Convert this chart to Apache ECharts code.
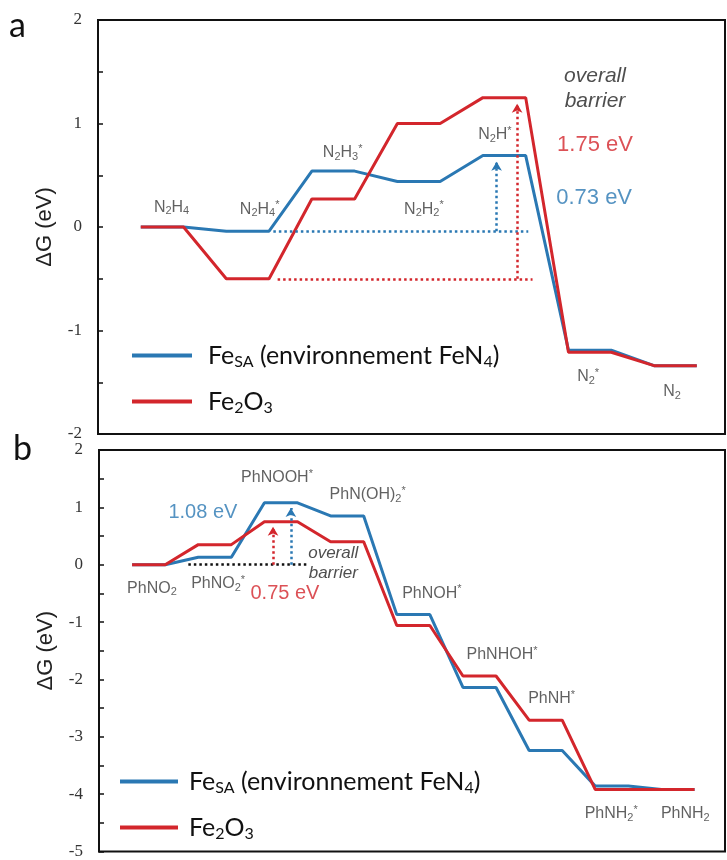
<!DOCTYPE html>
<html><head><meta charset="utf-8">
<script src="https://cdn.jsdelivr.net/npm/echarts@6/dist/echarts.min.js"></script>
<style>html,body{margin:0;padding:0;background:#fff}#c{width:727px;height:860px}</style>
</head><body><div id="c"></div>
<script>
// ---------- DATA ----------
// Panel a : N2H4 -> N2
const statesA = ['N2H4', 'N2H4*', 'N2H3*', 'N2H2*', 'N2H*', 'N2*', 'N2'];
const feSA_A  = [0, -0.04, 0.54, 0.44, 0.69, -1.19, -1.34];
const fe2o3_A = [0, -0.50, 0.27, 1.00, 1.25, -1.21, -1.34];
// Panel b : PhNO2 -> PhNH2
const statesB = ['PhNO2', 'PhNO2*', 'PhNOOH*', 'PhN(OH)2*', 'PhNOH*', 'PhNHOH*', 'PhNH*', 'PhNH2*', 'PhNH2'];
const feSA_B  = [0, 0.13, 1.08, 0.85, -0.87, -2.14, -3.24, -3.86, -3.92];
const fe2o3_B = [0, 0.35, 0.75, 0.40, -1.06, -1.94, -2.71, -3.92, -3.92];
// overall barriers (eV)
const barrierA = { FeSA: '0.73 eV', Fe2O3: '1.75 eV' };
const barrierB = { FeSA: '1.08 eV', Fe2O3: '0.75 eV' };
const seriesNames = ['FeSA', 'Fe2O3'];

// ---------- LAYOUT / STYLE ----------
const BLUE = '#2a78b3', RED = '#d3262c';
const PLATEAU = 0.5;
// label anchors [step units, eV]
const labelPosA = [[0.36,0.19],[1.39,0.17],[2.36,0.72],[3.31,0.17],[4.14,0.89],[5.23,-1.45],[6.21,-1.59]];
const labelPosB = [[0.30,-0.41],[1.30,-0.33],[2.19,1.52],[3.56,1.22],[4.53,-0.50],[5.59,-1.57],[6.34,-2.34],[7.24,-4.34],[8.36,-4.34]];

function stepped(levels) {
  const pts = [];
  levels.forEach((v, i) => { pts.push([i, v]); pts.push([i + PLATEAU, v]); });
  return pts;
}
function chem(s) { return s.replace(/(\d+)/g, '{s|$1}').replace(/\*/g, '{p|*}'); }
const chemRich = {
  s: { fontSize: 11, fontFamily: 'Liberation Sans', color: '#3a3a3a', padding: [8, 0, 0, 0] },
  p: { fontSize: 11, fontFamily: 'Liberation Sans', color: '#3a3a3a', padding: [0, 0, 8, 0] }
};
function legendRich(pad) {
  return {
    sp: { width: pad },
    n: { fontSize: 25, fontFamily: 'Lato', color: '#111', lineHeight: 30 },
    sub: { fontSize: 16, fontFamily: 'Lato', color: '#111', padding: [13, 0, 0, 0] }
  };
}
function legendFmt(name) {
  if (name === 'FeSA') return '{sp|}{n|Fe}{sub|SA}{n| (environnement FeN}{sub|4}{n|)}';
  return '{sp|}{n|Fe}{sub|2}{n|O}{sub|3}';
}
function dotted(color, from, to, arrow) {
  return [
    { coord: from, symbol: 'none', lineStyle: { color: color, width: 2.5, type: [2.5, 3] } },
    { coord: to, symbol: arrow ? 'arrow' : 'none', symbolSize: [8, 9] }
  ];
}
function labelSeries(gi, names, pos) {
  return {
    type: 'scatter', xAxisIndex: gi, yAxisIndex: gi, symbolSize: 1, silent: true, z: 5,
    itemStyle: { color: 'rgba(0,0,0,0)' },
    data: names.map((n, i) => ({ name: n, value: pos[i] })),
    label: { show: true, position: 'inside', formatter: p => chem(p.name),
      fontFamily: 'Liberation Sans', fontSize: 16, color: '#3a3a3a', rich: chemRich }
  };
}
function noteSeries(gi, notes, markLine) {
  const s = {
    type: 'scatter', xAxisIndex: gi, yAxisIndex: gi, symbolSize: 1, silent: true, z: 6,
    itemStyle: { color: 'rgba(0,0,0,0)' },
    data: notes.map(n => ({ value: n.pos, label: {
      show: true, position: 'inside', formatter: n.text, color: n.color,
      fontFamily: 'Liberation Sans', fontSize: n.size, fontStyle: n.italic ? 'italic' : 'normal',
      lineHeight: n.lh || n.size } }))
  };
  if (markLine) s.markLine = markLine;
  return s;
}
function lineSeries(gi, name, color, levels, markLine) {
  return {
    type: 'line', name: name, xAxisIndex: gi, yAxisIndex: gi, data: stepped(levels),
    symbol: 'none', color: color, lineStyle: { color: color, width: 3 }, z: 3, silent: true,
    markLine: markLine
  };
}
function yAxis(gi, min, max) {
  return {
    type: 'value', gridIndex: gi, min: min, max: max, interval: 0.5,
    axisLine: { show: true, onZero: false, lineStyle: { color: '#111', width: 2 } },
    axisTick: { show: true, inside: true, length: 5, lineStyle: { color: '#111', width: 1.5 } },
    splitLine: { show: false },
    axisLabel: { margin: 16, fontFamily: 'Liberation Serif', fontSize: 17, color: '#333',
      formatter: v => (Number.isInteger(v) ? String(v) : '') },
    name: 'ΔG (eV)', nameLocation: 'middle', nameGap: 42,
    nameTextStyle: { fontFamily: 'Liberation Sans', fontSize: 22, color: '#222' }
  };
}

const gapA = 0.06, gapB = 0.09;
const mlBlueA = { silent: true, symbol: ['none', 'none'], label: { show: false }, data: [
  dotted(BLUE, [1.55, feSA_A[1]], [4.53, feSA_A[1]], false),
  dotted(BLUE, [4.16, feSA_A[1]], [4.16, feSA_A[4] - gapA], true)] };
const mlRedA = { silent: true, symbol: ['none', 'none'], label: { show: false }, data: [
  dotted(RED, [1.60, fe2o3_A[1]], [4.58, fe2o3_A[1]], false),
  dotted(RED, [4.40, fe2o3_A[1]], [4.40, fe2o3_A[4] - gapA], true)] };
const mlB = { silent: true, symbol: ['none', 'none'], label: { show: false }, data: [
  dotted('#111', [0.85, fe2o3_B[0]], [2.64, fe2o3_B[0]], false),
  dotted(RED, [2.13, fe2o3_B[0]], [2.13, fe2o3_B[2] - gapB], true),
  dotted(BLUE, [2.40, feSA_B[0]], [2.40, feSA_B[2] - gapB], true)] };

const notesA = [
  { text: 'overall\nbarrier', pos: [5.31, 1.34], color: '#222', italic: true, size: 21, lh: 25 },
  { text: barrierA.Fe2O3, pos: [5.31, 0.79], color: RED, size: 22 },
  { text: barrierA.FeSA, pos: [5.30, 0.28], color: BLUE, size: 22 }
];
const notesB = [
  { text: barrierB.FeSA, pos: [1.07, 0.91], color: BLUE, size: 20 },
  { text: barrierB.Fe2O3, pos: [2.31, -0.50], color: RED, size: 20 },
  { text: 'overall\nbarrier', pos: [3.04, 0.03], color: '#222', italic: true, size: 17, lh: 20 }
];

const chart = echarts.init(document.getElementById('c'), null, { renderer: 'canvas' });
chart.setOption({
  animation: false,
  backgroundColor: '#fff',
  title: [
    { text: 'a', left: 9, top: 9, padding: 0, textStyle: { fontFamily: 'Lato', fontSize: 34, fontWeight: 'normal', color: '#111' } },
    { text: 'b', left: 13, top: 432, padding: 0, textStyle: { fontFamily: 'Lato', fontSize: 34, fontWeight: 'normal', color: '#111' } }
  ],
  grid: [
    { left: 98, top: 20, width: 627, height: 414, show: true, borderColor: '#111', borderWidth: 2, backgroundColor: 'transparent' },
    { left: 99, top: 450, width: 626, height: 406, show: true, borderColor: '#111', borderWidth: 2, backgroundColor: 'transparent' }
  ],
  xAxis: [
    { type: 'value', gridIndex: 0, min: -0.5, max: 6.83, show: false },
    { type: 'value', gridIndex: 1, min: -0.5, max: 8.96, show: false }
  ],
  yAxis: [yAxis(0, -2, 2), yAxis(1, -5, 2)],
  legend: [
    { data: seriesNames, orient: 'vertical', left: 132, top: 343, padding: 0, itemGap: 19,
      icon: 'rect', itemWidth: 60, itemHeight: 4, selectedMode: false, formatter: legendFmt,
      textStyle: { rich: legendRich(11) } },
    { data: seriesNames, orient: 'vertical', left: 120, top: 769, padding: 0, itemGap: 19,
      icon: 'rect', itemWidth: 58, itemHeight: 4, selectedMode: false, formatter: legendFmt,
      textStyle: { rich: legendRich(6) } }
  ],
  series: [
    lineSeries(0, 'FeSA', BLUE, feSA_A, mlBlueA),
    lineSeries(0, 'Fe2O3', RED, fe2o3_A, mlRedA),
    lineSeries(1, 'FeSA', BLUE, feSA_B, null),
    lineSeries(1, 'Fe2O3', RED, fe2o3_B, null),
    labelSeries(0, statesA, labelPosA),
    labelSeries(1, statesB, labelPosB),
    noteSeries(0, notesA, null),
    noteSeries(1, notesB, mlB)
  ]
});
</script></body></html>
